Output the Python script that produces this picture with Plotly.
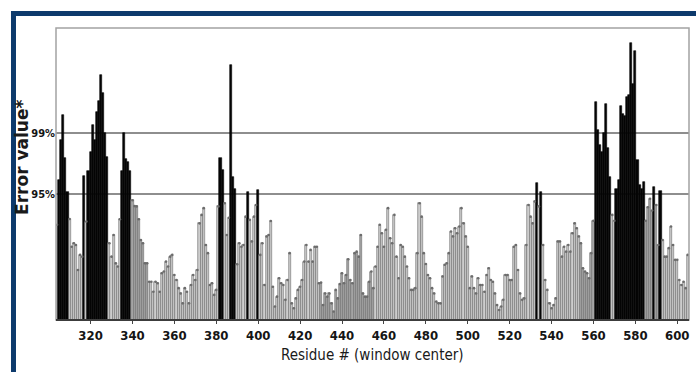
import plotly.graph_objects as go

# ---------------- data ----------------
first_residue = 304
error_values = [
    32.6, 48, 61.7, 70.3, 55.4, 44, 34.6, 25.1, 26.3, 25.7,      # 304-313
    17.1, 22.3, 21.7, 49.4, 33.7, 50.9, 57.7, 66.9, 61.7, 71.4,  # 314-323
    74.9, 84, 77.7, 64, 55.7, 26.3, 21.7, 29.1, 19.4, 18.3,      # 324-333
    34.5, 51, 64, 55, 54, 51, 41, 39, 38.9, 34.5,                # 334-343
    27.4, 26.3, 19.4, 19.4, 13.1, 13.1, 9.7, 13.1, 12.6, 9.7,    # 344-353
    16, 16.6, 20, 18.3, 21.7, 22.3, 15.4, 13.7, 10.9, 9.1,       # 354-363
    5.7, 10.9, 9.7, 5.7, 12, 15.4, 13.7, 17.1, 33.1, 36,         # 364-373
    38.3, 25.7, 22.9, 12, 12.6, 8.6, 10.3, 38.9, 55.4, 51.4,     # 374-383
    40, 29.1, 35, 87.4, 49, 45, 19.1, 26.3, 25.1, 25.7,          # 384-393
    35.4, 44, 34.3, 26.9, 35.4, 39.4, 44.6, 22.3, 26.3, 12,      # 394-403
    28.6, 29.1, 33.9, 11.4, 4.6, 8, 14.3, 12.6, 12, 6.9,         # 404-413
    13.7, 22.9, 5.7, 4, 7.4, 10.3, 11.4, 13.7, 20, 25.7,         # 414-423
    20, 24, 20, 25.1, 25.1, 12.6, 12.8, 5.1, 9.1, 8,             # 424-433
    9.1, 5.7, 2.9, 10.3, 7.4, 12.3, 16, 12.6, 15.4, 20.8,        # 434-443
    13.7, 12.6, 22.9, 23.4, 21.7, 29.1, 9.1, 8, 8, 13.1,         # 444-453
    16.6, 10.9, 18.3, 25.1, 32.6, 29.7, 25.1, 30.9, 38.3, 28,    # 454-463
    26.3, 36, 21.7, 14.3, 25.7, 25.1, 21.7, 18.3, 14.3, 10.3,    # 464-473
    10.3, 10.9, 22.9, 40, 35.4, 22.9, 19.2, 15.4, 14.3, 10.9,    # 474-483
    9.1, 6.3, 5.7, 5.7, 14.9, 18.9, 19.4, 22.9, 30.3, 28.6,      # 484-493
    31.4, 29.7, 32, 38.3, 33.1, 28.6, 25.1, 10.9, 14.9, 10.9,    # 494-503
    9.1, 14.3, 12, 12, 9.7, 15.4, 17.7, 13.7, 13.1, 9.1,         # 504-513
    5.1, 3.4, 4.6, 6.9, 15.4, 15.4, 13.7, 13.7, 25.1, 25.7,      # 514-523
    17.1, 9.1, 6.9, 7.4, 25.7, 39.4, 35.4, 33.1, 40.6, 46.9,     # 524-533
    38.9, 44, 25.7, 13.7, 10.3, 5.7, 4, 5.1, 7.4, 26.9,          # 534-543
    26.9, 21.7, 25.1, 23.4, 25.7, 23.4, 29.7, 33.1, 31.4, 28.6,  # 544-553
    26.3, 17.7, 16.6, 16, 14.3, 22.9, 34, 74.5, 65, 60,          # 554-563
    57.7, 64, 73.9, 59, 49, 36, 34, 44.7, 48, 73.3,              # 564-573
    70.4, 69.7, 76.3, 77, 94.9, 80.8, 92.2, 54.9, 46.3, 45,      # 574-583
    47.4, 34, 38.6, 41.5, 37.5, 45.7, 39.4, 25.7, 44.2, 27.4,    # 584-593
    21.7, 21.7, 24.6, 32, 25.7, 20.6, 20.6, 13.7, 12, 13.1,      # 594-603
    10.9, 22.3,                                                  # 604-605
]
residues = list(range(first_residue, first_residue + len(error_values)))

threshold_95 = 43.0
threshold_99 = 63.9
threshold_labels = ["95%", "99%"]
x_tick_values = [320, 340, 360, 380, 400, 420, 440, 460, 480, 500, 520, 540, 560, 580, 600]
# residue segments drawn with the darker grey shading
shaded_segments = [(340, 347), (430, 455), (554, 560), (585, 591)]

# ---------------- styling ----------------
BLACK = "#050505"
LIGHT = "#cdcdcd"
MEDIUM = "#a4a4a4"
OUTLINE = "#6a6a6a"


def in_shaded(r):
    return any(a <= r <= b for a, b in shaded_segments)


fills, lines = [], []
dot_x, dot_y = [], []
for r, v in zip(residues, error_values):
    if v > threshold_95:
        fills.append(BLACK)
        lines.append(BLACK)
    else:
        fills.append(MEDIUM if in_shaded(r) else LIGHT)
        lines.append(OUTLINE)
        dot_x.append(r)
        dot_y.append(v)

fig = go.Figure()
fig.add_bar(
    x=residues, y=error_values, width=1,
    marker=dict(color=fills, line=dict(color=lines, width=0.6)),
    hoverinfo="x+y", showlegend=False,
)
fig.add_scatter(
    x=dot_x, y=dot_y, mode="markers",
    marker=dict(size=2.6, color="#6c6c6c"),
    hoverinfo="skip", showlegend=False,
)

NARROW = "Liberation Sans Narrow, DejaVu Sans Condensed, Arial Narrow, sans-serif"

fig.update_layout(
    width=696, height=372,
    margin=dict(l=56, r=7, t=28, b=52),
    paper_bgcolor="white", plot_bgcolor="white",
    bargap=0,
    xaxis=dict(
        range=[303.5, 605.6], tickvals=x_tick_values,
        ticks="outside", ticklen=3, tickcolor="#444",
        tickfont=dict(family=NARROW, size=13, color="#151515", weight="bold"),
        showgrid=False, zeroline=False, showline=False,
    ),
    yaxis=dict(
        range=[0, 100], tickvals=[threshold_95, threshold_99], ticktext=threshold_labels,
        ticks="", tickfont=dict(family=NARROW, size=11, color="#151515", weight="bold"),
        showgrid=True, gridcolor="#8e8e8e", gridwidth=2,
        zeroline=False, showline=False,
    ),
    annotations=[
        dict(text="Error value*", xref="paper", yref="paper", x=-0.054, y=0.558,
             textangle=-90, showarrow=False, xanchor="center", yanchor="middle",
             font=dict(family="DejaVu Sans", size=17, color="#1a1a1a", weight="bold")),
        dict(text="Residue # (window center)", xref="paper", yref="paper", x=0.5, y=-0.12,
             showarrow=False, xanchor="center", yanchor="middle",
             font=dict(family=NARROW, size=15, color="#1a1a1a")),
    ],
    shapes=[
        # plot frame
        dict(type="rect", xref="paper", yref="paper", x0=0, x1=1, y0=0, y1=1,
             line=dict(color="#a3a3a3", width=1.5), layer="above"),
        # baseline
        dict(type="line", xref="paper", yref="paper", x0=0, x1=1, y0=0, y1=0,
             line=dict(color="#3c3c3c", width=2), layer="above"),
        # navy border (left and top bands)
        dict(type="rect", xref="paper", yref="paper", x0=-0.0711, x1=-0.0632, y0=-0.2, y1=1.0582,
             fillcolor="#0d3a6c", line=dict(width=0), layer="above"),
        dict(type="rect", xref="paper", yref="paper", x0=-0.0711, x1=1.02, y0=1.0411, y1=1.0582,
             fillcolor="#0d3a6c", line=dict(width=0), layer="above"),
    ],
)

fig.write_html("out.html", config={"displayModeBar": False},
               post_script="document.body.style.margin='0';")
